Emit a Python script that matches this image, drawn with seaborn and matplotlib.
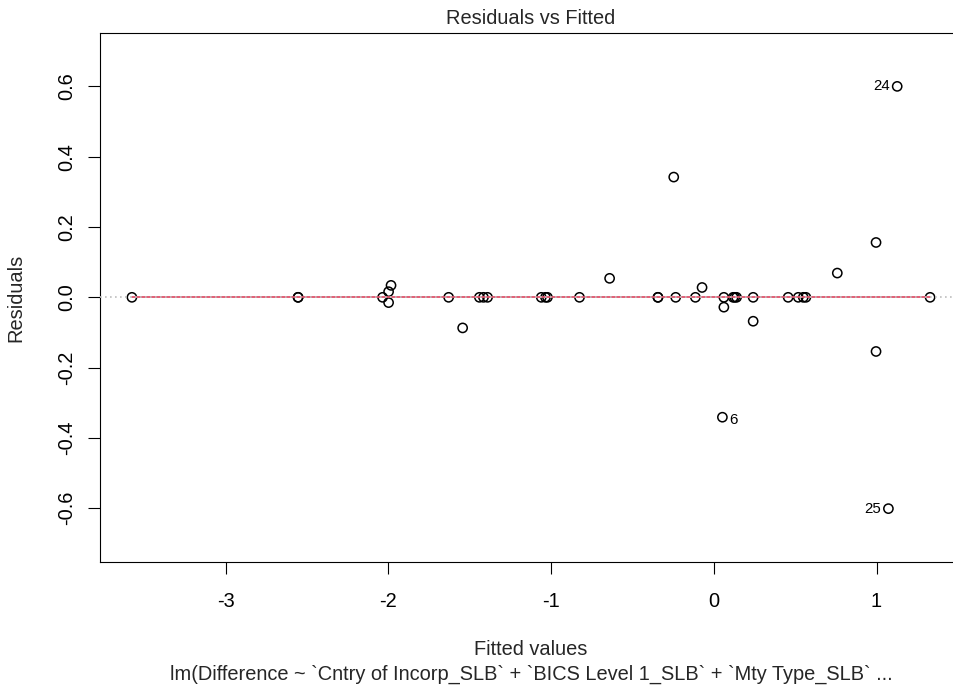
import numpy as np
import pandas as pd
import matplotlib
matplotlib.use("Agg")
import matplotlib.pyplot as plt
import seaborn as sns

# ---- data ----
fitted = [-3.575, -2.554, -2.554, -2.035, -1.983, -1.998, -1.998, -1.629, -1.543,
          -1.440, -1.415, -1.390, -1.060, -1.034, -1.022, -0.825, -0.640,
          -0.343, -0.343, -0.234, -0.246, -0.113, -0.072, 0.062, 0.062, 0.053,
          0.119, 0.129, 0.140, 0.242, 0.242, 0.457, 0.519, 0.550, 0.566,
          0.759, 0.997, 0.997, 1.127, 1.073, 1.329]
residuals = [0.0, 0.0, 0.0, 0.0, 0.034, 0.016, -0.015, 0.0, -0.087,
             0.0, 0.0, 0.0, 0.0, 0.0, 0.0, 0.0, 0.054,
             0.0, 0.0, 0.0, 0.342, 0.0, 0.028, 0.0, -0.028, -0.341,
             0.0, 0.0, 0.0, 0.0, -0.068, 0.0, 0.0, 0.0, 0.0,
             0.069, 0.156, -0.154, 0.600, -0.601, 0.0]
obs_labels = ["24", "6", "25"]
label_fitted = [1.127, 0.053, 1.073]
label_resid = [0.600, -0.341, -0.601]
label_side = ["left", "right", "left"]
smooth_x = [-3.575, 1.329]
smooth_y = [0.0, 0.0]
x_ticks = [-3, -2, -1, 0, 1]
y_ticks = [-0.6, -0.4, -0.2, 0.0, 0.2, 0.4, 0.6]
y_tick_labels = ["-0.6", "-0.4", "-0.2", "0.0", "0.2", "0.4", "0.6"]
title = "Residuals vs Fitted"
xlabel = "Fitted values"
ylabel = "Residuals"
subcaption = "lm(Difference ~ `Cntry of Incorp_SLB` + `BICS Level 1_SLB` + `Mty Type_SLB` ..."

df = pd.DataFrame({"fitted": fitted, "resid": residuals})
smooth_df = pd.DataFrame({"x": smooth_x, "y": smooth_y})

sns.set_theme(style="white")
plt.rcParams['font.family'] = ['Liberation Sans', 'DejaVu Sans']

W, H = 954, 689
FS = 14.4
fig = plt.figure(figsize=(W / 100, H / 100), dpi=100)
fig.patch.set_facecolor("white")
# plot region (right edge lies just beyond the picture, as in the reference)
left_px, top_px, right_px, bottom_px = 100, 33, 962, 562
ax = fig.add_axes([left_px / W, (H - bottom_px) / H,
                   (right_px - left_px) / W, (bottom_px - top_px) / H])
ax.set_facecolor("white")

sns.scatterplot(data=df, x="fitted", y="resid", ax=ax, marker="o", s=44,
                facecolor="none", edgecolor="black", linewidth=1.1, zorder=3,
                legend=False)
sns.lineplot(data=smooth_df, x="x", y="y", ax=ax, color="#DF536B", lw=1.3,
             zorder=4, legend=False)
ax.axhline(0, color="#BEBEBE", lw=1.2, ls=(0, (1, 2)), zorder=5)

# R-style limits
xmin, xmax = min(fitted), max(fitted)
xr = xmax - xmin
ax.set_xlim(xmin - 0.04 * xr, xmax + 0.04 * xr)
ymin, ymax = min(residuals), max(residuals)
ext = 0.08 * (ymax - ymin)
y0, y1 = ymin - ext, ymax + ext
yr = y1 - y0
ax.set_ylim(y0 - 0.04 * yr, y1 + 0.04 * yr)

for lab, lx, ly, side in zip(obs_labels, label_fitted, label_resid, label_side):
    if side == "left":
        ax.annotate(lab, (lx, ly), xytext=(-5, 0), textcoords="offset points",
                    ha="right", va="center", fontsize=10.8, color="black")
    else:
        ax.annotate(lab, (lx, ly), xytext=(5, -2), textcoords="offset points",
                    ha="left", va="center", fontsize=10.8, color="black")

ax.set_xticks(x_ticks)
ax.set_xticklabels([str(t) for t in x_ticks])
ax.set_yticks(y_ticks)
ax.set_yticklabels(y_tick_labels, rotation=90, va="center")
ax.tick_params(axis="x", direction="out", length=8.6, width=0.8, colors="black",
               labelsize=FS, pad=12.7, bottom=True)
ax.tick_params(axis="y", direction="out", length=8.6, width=0.8, colors="black",
               labelsize=FS, pad=8.5, left=True)
for sp in ax.spines.values():
    sp.set_color("black")
    sp.set_linewidth(0.8)
ax.set_xlabel("")
ax.set_ylabel("")
ax.grid(False)

cx = (left_px + right_px) / 2 / W
cy = (H - (top_px + bottom_px) / 2) / H
fig.text(cx, (H - 24) / H, title, ha="center", va="baseline", fontsize=FS)
fig.text(cx, (H - 655) / H, xlabel, ha="center", va="baseline", fontsize=FS)
fig.text(cx, (H - 680) / H, subcaption, ha="center", va="baseline", fontsize=FS)
fig.text(25 / W, cy, ylabel, ha="right", va="center", rotation=90, fontsize=FS,
         rotation_mode="default")

fig.savefig("out.png", dpi=100, facecolor="white")
